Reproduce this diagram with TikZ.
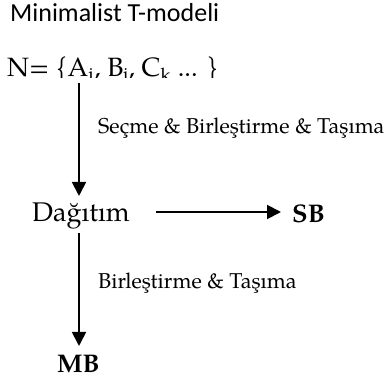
\documentclass[tikz,border=0pt]{standalone}
\usepackage{fontspec}
\setmainfont{TeX Gyre Pagella}
\newfontfamily\titlefont{Carlito}
\usetikzlibrary{arrows.meta}
\begin{document}
\begin{tikzpicture}[x=1pt,y=-1pt,
  arr/.style={line width=1.8pt,-{Triangle[width=14pt,length=14pt]}},
  txt/.style={anchor=base west,inner sep=0pt},
  lbl/.style={txt,font=\fontsize{21.5}{24}\selectfont},
  big/.style={txt,font=\fontsize{27}{30}\selectfont},
  bold/.style={txt,font=\bfseries\fontsize{25.5}{28}\selectfont}]
\useasboundingbox (0,0) rectangle (384,382);
\node[txt,font=\titlefont\fontsize{26}{30}\selectfont] (title) at (10,22) {Minimalist T-modeli};
\begin{scope}
  \clip (0,40) rectangle (384,77.5);
  \node[txt,font=\fontsize{26.5}{30}\selectfont] (N) at (7,76.5) {N= \{A\textsubscript{i}, B\textsubscript{j}, C\textsubscript{k} ... \}};
\end{scope}
\node[big] (D) at (32,222) {Dağıtım};
\node[bold] (SB) at (292,223) {SB};
\node[bold] (MB) at (57,373) {MB};
\node[lbl] (L1) at (98,134) {Seçme \& Birleştirme \& Taşıma};
\node[lbl] (L2) at (98,289) {Birleştirme \& Taşıma};
\coordinate (a1s) at (79,83);
\coordinate (a1e) at (79,196);
\coordinate (a2s) at (156,212);
\coordinate (a2e) at (281,212);
\coordinate (a3s) at (79,233);
\coordinate (a3e) at (79,346);
\draw[arr] (a1s) -- (a1e);
\draw[arr] (a2s) -- (a2e);
\draw[arr] (a3s) -- (a3e);
\end{tikzpicture}
\end{document}
